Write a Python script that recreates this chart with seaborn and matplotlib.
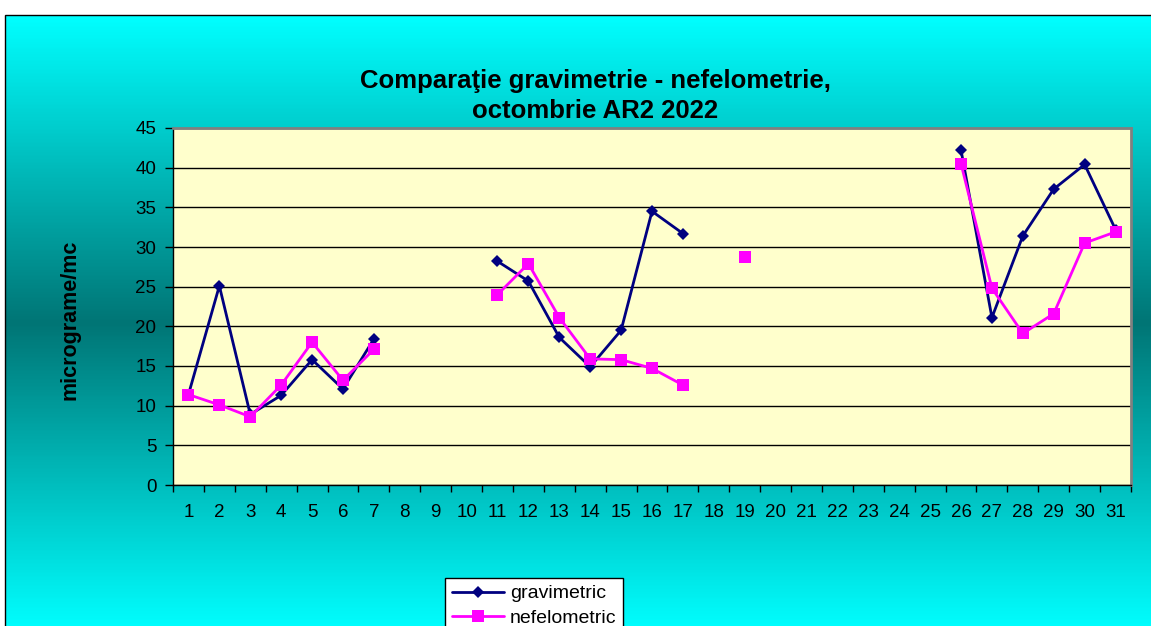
import numpy as np
import pandas as pd
import matplotlib
matplotlib.use('Agg')
import matplotlib.pyplot as plt
from matplotlib.colors import LinearSegmentedColormap
from matplotlib.lines import Line2D
from matplotlib.patches import Rectangle
import seaborn as sns

days = list(range(1, 32))
day_labels = [str(d) for d in days]
gravimetric = [11.4, 25.1, 8.9, 11.3, 15.8, 12.1, 18.4, np.nan, np.nan, np.nan,
               28.2, 25.7, 18.6, 14.9, 19.5, 34.5, 31.7, np.nan, np.nan, np.nan,
               np.nan, np.nan, np.nan, np.nan, np.nan, 42.2, 21.1, 31.4, 37.3, 40.4, 32.2]
nefelometric = [11.4, 10.1, 8.6, 12.6, 18.0, 13.2, 17.1, np.nan, np.nan, np.nan,
                24.0, 27.9, 21.1, 15.9, 15.8, 14.7, 12.6, np.nan, 28.8, np.nan,
                np.nan, np.nan, np.nan, np.nan, np.nan, 40.5, 24.8, 19.1, 21.6, 30.5, 31.9]
series_names = ['gravimetric', 'nefelometric']
series_colors = {'gravimetric': '#000080', 'nefelometric': '#FF00FF'}
series_markers = {'gravimetric': 'D', 'nefelometric': 's'}
series_msize = {'gravimetric': 6.5, 'nefelometric': 8}

# long format, with a segment id so that gaps stay gaps
frames = []
for name, vals in zip(series_names, [gravimetric, nefelometric]):
    s = pd.Series(vals, dtype=float)
    d = pd.DataFrame({'day': days, 'value': s, 'series': name,
                      'seg': s.isna().cumsum()})
    frames.append(d.dropna())
df = pd.concat(frames, ignore_index=True)

sns.set_style('ticks')
plt.rcParams['font.family'] = ['Liberation Sans', 'DejaVu Sans']
plt.rcParams['text.color'] = 'black'
plt.rcParams['axes.labelcolor'] = 'black'
plt.rcParams['xtick.color'] = 'black'
plt.rcParams['ytick.color'] = 'black'

W, H = 1151, 626
fig = plt.figure(figsize=(W / 100, H / 100), dpi=100, facecolor='white')

# chart area with vertical gradient (cyan - dark teal - cyan)
bg = fig.add_axes([5 / W, -5 / H, 1 - 5 / W, (H - 15 + 5) / H], zorder=-2)
cmap = LinearSegmentedColormap.from_list('bg', ['#00FFFF', '#007575', '#00FFFF'])
grad = np.linspace(0, 1, 400).reshape(-1, 1)
bg.imshow(grad, aspect='auto', cmap=cmap, extent=[0, 1, 0, 1], vmin=0, vmax=1.0)
bg.set_xlim(0, 1)
bg.set_ylim(0, 1)
bg.axis('off')
fig.patches.append(Rectangle((5 / W, -0.1), 1.1, 1.1 - 15 / H,
                             transform=fig.transFigure, fill=False,
                             edgecolor='black', linewidth=1, zorder=5))

# plot area
ax = fig.add_axes([173 / W, (H - 485) / H, (1131 - 173) / W, (485 - 128) / H])
ax.set_facecolor('#FFFFCC')

for name in series_names:
    sub = df[df['series'] == name]
    sns.lineplot(data=sub, x='day', y='value', units='seg', estimator=None,
                 color=series_colors[name], marker=series_markers[name],
                 markersize=series_msize[name], markeredgewidth=0,
                 linewidth=2, ax=ax, legend=False)

ax.set_xlim(0.5, 31.5)
ax.set_ylim(0, 45)
ax.set_yticks(np.arange(0, 46, 5))
ax.set_xticks(np.arange(0.5, 32, 1))
ax.set_xticklabels([])
ax.set_xticks(days, minor=True)
ax.set_xticklabels(day_labels, minor=True)
ax.tick_params(axis='x', which='major', direction='out', length=5, width=1, color='black')
ax.tick_params(axis='x', which='minor', length=0, pad=14, labelsize=13.5)
ax.tick_params(axis='y', direction='out', length=6, width=1, color='black',
               labelsize=13.5, pad=6)
ax.yaxis.grid(True, color='black', linewidth=1)
ax.set_axisbelow(True)
ax.set_xlabel('')
ax.set_ylabel('')
for side in ['top', 'right']:
    ax.spines[side].set_color('#808080')
    ax.spines[side].set_linewidth(2)
for side in ['left', 'bottom']:
    ax.spines[side].set_color('black')
    ax.spines[side].set_linewidth(1)

# title and axis label
fig.text(595 / W, 1 - 96 / H, 'Comparaţie gravimetrie - nefelometrie,\noctombrie AR2 2022',
         ha='center', va='center', fontsize=18.5, fontweight='bold', linespacing=1.35)
fig.text(70 / W, 1 - 320 / H, 'micrograme/mc', rotation=90, ha='center', va='center',
         fontsize=15.5, fontweight='bold')

# legend
handles = [Line2D([], [], color=series_colors[n], marker=series_markers[n],
                  markersize=series_msize[n], markeredgewidth=0, linewidth=2)
           for n in series_names]
leg = fig.legend(handles, series_names, loc='upper left',
                 bbox_to_anchor=(445 / W, 1 - 578 / H), borderaxespad=0, fontsize=14,
                 frameon=True, fancybox=False, edgecolor='black', framealpha=1,
                 handlelength=2.7, labelspacing=0.35, borderpad=0.35, handletextpad=0.3)
leg.get_frame().set_linewidth(1)

fig.savefig('out.png', dpi=100, facecolor='white')
